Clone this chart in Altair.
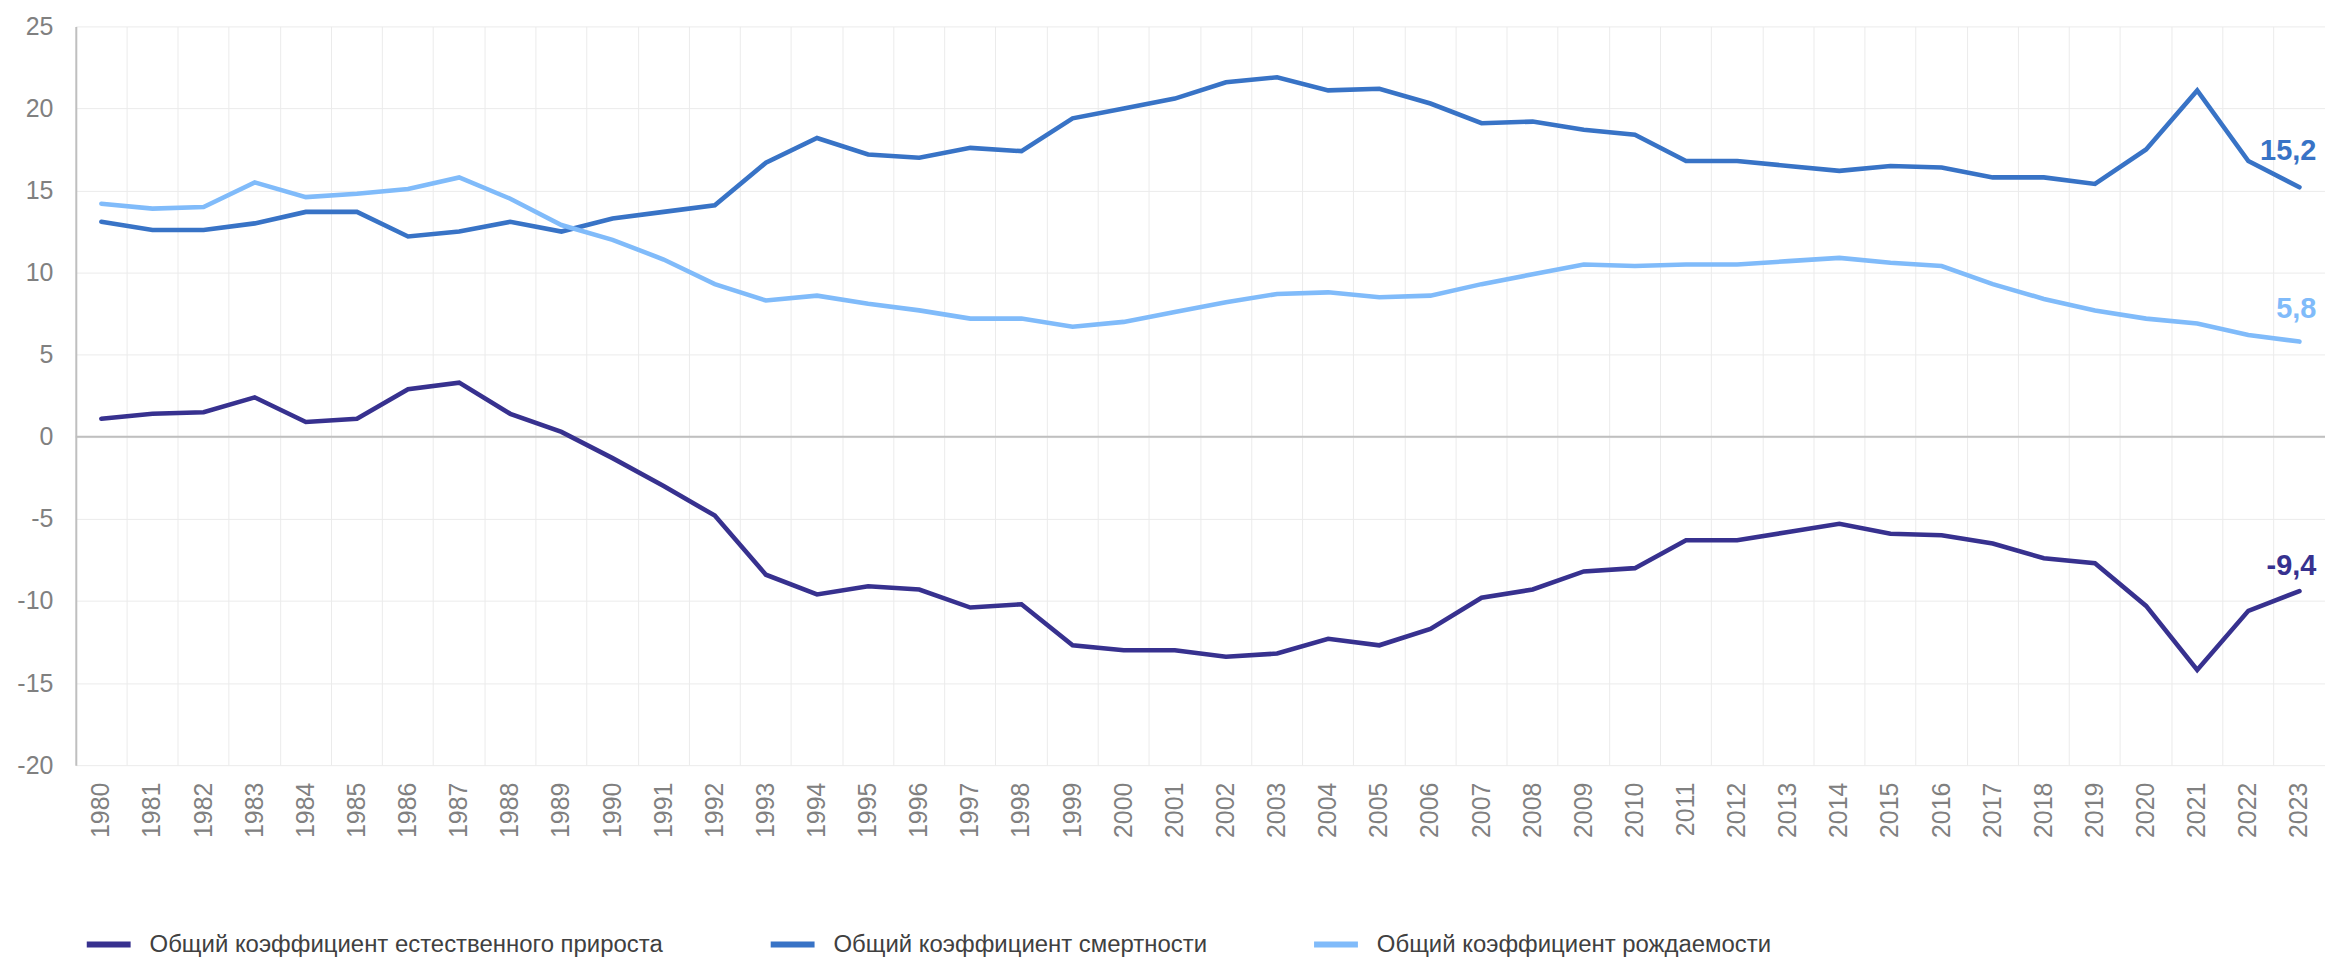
import altair as alt
import pandas as pd

years = [str(y) for y in range(1980, 2024)]

s_nat = "Общий коэффициент естественного прироста"
s_mort = "Общий коэффициент смертности"
s_birth = "Общий коэффициент рождаемости"

natural = [1.1, 1.4, 1.5, 2.4, 0.9, 1.1, 2.9, 3.3, 1.4, 0.3,
           -1.3, -3.0, -4.8, -8.4, -9.6, -9.1, -9.3, -10.4, -10.2, -12.7,
           -13.0, -13.0, -13.4, -13.2, -12.3, -12.7, -11.7, -9.8, -9.3, -8.2,
           -8.0, -6.3, -6.3, -5.8, -5.3, -5.9, -6.0, -6.5, -7.4, -7.7,
           -10.3, -14.2, -10.6, -9.4]
mortality = [13.1, 12.6, 12.6, 13.0, 13.7, 13.7, 12.2, 12.5, 13.1, 12.5,
             13.3, 13.7, 14.1, 16.7, 18.2, 17.2, 17.0, 17.6, 17.4, 19.4,
             20.0, 20.6, 21.6, 21.9, 21.1, 21.2, 20.3, 19.1, 19.2, 18.7,
             18.4, 16.8, 16.8, 16.5, 16.2, 16.5, 16.4, 15.8, 15.8, 15.4,
             17.5, 21.1, 16.8, 15.2]
birth = [14.2, 13.9, 14.0, 15.5, 14.6, 14.8, 15.1, 15.8, 14.5, 12.9,
         12.0, 10.8, 9.3, 8.3, 8.6, 8.1, 7.7, 7.2, 7.2, 6.7,
         7.0, 7.6, 8.2, 8.7, 8.8, 8.5, 8.6, 9.3, 9.9, 10.5,
         10.4, 10.5, 10.5, 10.7, 10.9, 10.6, 10.4, 9.3, 8.4, 7.7,
         7.2, 6.9, 6.2, 5.8]

series_names = [s_nat, s_mort, s_birth]
series_values = [natural, mortality, birth]
series_colors = ["#37318f", "#3873c6", "#80bbfa"]
end_labels = ["-9,4", "15,2", "5,8"]
label_dy = [-16, -27, -24]

FONT = "Liberation Sans"

rows = []
for name, vals in zip(series_names, series_values):
    for y, v in zip(years, vals):
        rows.append({"year": y, "series": name, "value": v})
df = pd.DataFrame(rows)

x_enc = alt.X(
    "year:O",
    scale=alt.Scale(type="band", paddingInner=0, paddingOuter=0),
    axis=alt.Axis(
        title=None, labelAngle=270, labelFontSize=25, labelColor="#808080",
        labelPadding=17, ticks=False, domain=False, grid=True,
        gridColor="#ebebeb", gridWidth=1, bandPosition=0, labelFont=FONT,
    ),
)
y_enc = alt.Y(
    "value:Q",
    scale=alt.Scale(domain=[-20, 25], nice=False, zero=False),
    axis=alt.Axis(
        title=None, values=list(range(-20, 30, 5)), labelExpr="'' + datum.value",
        labelFontSize=25, labelColor="#808080", labelPadding=23, ticks=False,
        domain=True, domainColor="#bfbfbf", domainWidth=2, grid=True,
        gridColor="#ebebeb", gridWidth=1, labelFont=FONT,
    ),
)

lines = alt.Chart(df).mark_line(strokeWidth=4.6, strokeCap="round", strokeJoin="miter").encode(
    x=x_enc,
    y=y_enc,
    color=alt.Color(
        "series:N",
        scale=alt.Scale(domain=series_names, range=series_colors),
        legend=alt.Legend(
            title=None, orient="none", direction="horizontal",
            legendX=8, legendY=896,
            symbolType="stroke", symbolStrokeWidth=6, symbolSize=1936,
            labelFontSize=24, labelColor="#404040", labelFont=FONT,
            columnPadding=95, labelOffset=16, labelLimit=0,
        ),
    ),
    order=alt.Order("year:O"),
)

zero = alt.Chart(pd.DataFrame({"z": [0]})).mark_rule(color="#bfbfbf", strokeWidth=2).encode(
    y="z:Q"
)

layers = [zero, lines]
for name, vals, col, lab, dy in zip(series_names, series_values, series_colors, end_labels, label_dy):
    d = pd.DataFrame({"year": [years[-1]], "value": [vals[-1]], "label": [lab]})
    t = alt.Chart(d).mark_text(
        align="right", baseline="alphabetic", dx=17, dy=dy,
        fontSize=29, fontWeight="bold", color=col, font=FONT,
    ).encode(x=alt.X("year:O"), y=alt.Y("value:Q"), text="label:N")
    layers.append(t)

chart = alt.layer(*layers).properties(
    width=2256, height=741,
    padding={"left": 68, "top": 17, "right": 0, "bottom": 192},
    autosize=alt.AutoSizeParams(type="none"),
).configure(font=FONT).configure_view(strokeWidth=0)

chart.save("out.html", embed_options={"renderer": "svg", "actions": False})
